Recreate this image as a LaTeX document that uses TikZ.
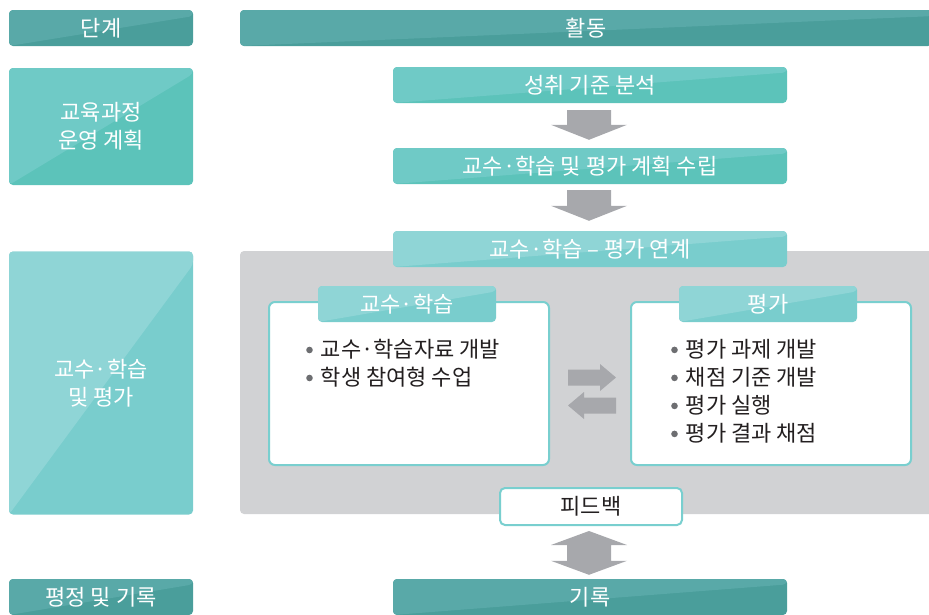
\documentclass[tikz,border=0pt]{standalone}
\usepackage{fontspec}
\setmainfont{Noto Sans CJK KR}
\usetikzlibrary{calc}
\definecolor{hdr}{HTML}{4A9E9B}
\definecolor{hdrL}{HTML}{59A9A8}
\definecolor{tealA}{HTML}{5CC3BA}
\definecolor{tealAL}{HTML}{6FCAC6}
\definecolor{tealB}{HTML}{79CDCD}
\definecolor{tealBL}{HTML}{8FD5D6}
\definecolor{bggray}{HTML}{D1D2D4}
\definecolor{arrgray}{HTML}{A7A8AC}
\definecolor{rim}{HTML}{79CFCF}
\definecolor{ink}{HTML}{231F20}
\definecolor{dotgray}{HTML}{6D6E71}
\newcommand\bul{\hspace{1pt}\tikz[baseline=-7.5pt]\fill[dotgray] (0pt,0pt) circle (3.3pt);\hspace{8pt}}
\tikzset{
  box/.style n args={3}{fill=#1, rounded corners=4pt, draw=none, text=white, inner sep=0pt,
    path picture={\fill[#2] (path picture bounding box.north west) -- (path picture bounding box.north east)
      -- ($(path picture bounding box.north east)!#3!(path picture bounding box.south east)$)
      -- (path picture bounding box.south west) -- cycle;}},
  panel/.style={draw=rim, line width=2pt, fill=white, rounded corners=6pt, inner sep=0pt},
  list/.style={anchor=north west, align=left, text=ink, inner sep=0pt},
  blockarrow/.style={fill=arrgray, draw=none}
}
\begin{document}
\begin{tikzpicture}[x=1pt,y=-1pt, font=\fontsize{22pt}{28pt}\selectfont]
\useasboundingbox (0,0) rectangle (929,614);

% headers
\node[box={hdr}{hdrL}{0.17}, minimum width=184pt, minimum height=36pt] (stage) at (101,28) {단계};
\node[box={hdr}{hdrL}{0.17}, minimum width=692pt, minimum height=36pt] (act) at (586,28) {활동};

% row 1
\node[box={tealA}{tealAL}{0.05}, minimum width=184pt, minimum height=117pt, align=center] (plan) at (101,126.5) {교육과정\\운영 계획};
\node[box={tealA}{tealAL}{0.15}, minimum width=394pt, minimum height=36pt] (s1) at (590,85) {성취 기준 분석};
\node[box={tealA}{tealAL}{0.15}, minimum width=394pt, minimum height=36pt] (s2) at (590,166) {교수·학습 및 평가 계획 수립};

% gray background region
\node[fill=bggray, rounded corners=4pt, inner sep=0pt, minimum width=697pt, minimum height=263pt] (bg) at (588.5,382.5) {};

\node[box={tealB}{tealBL}{0.15}, minimum width=394pt, minimum height=36pt] (s3) at (590,249) {교수·학습 – 평가 연계};

% row 2
\node[box={tealB}{tealBL}{0.05}, minimum width=184pt, minimum height=263pt, align=center] (doit) at (101,383) {교수·학습\\및 평가};

\node[panel, minimum width=280pt, minimum height=163pt] (L) at (409,383.5) {};
\node[panel, minimum width=280pt, minimum height=163pt] (R) at (771,383.5) {};
\node[box={tealB}{tealBL}{0.15}, minimum width=178pt, minimum height=36pt] (tabL) at (407,304) {교수·학습};
\node[box={tealB}{tealBL}{0.15}, minimum width=178pt, minimum height=36pt] (tabR) at (768,304) {평가};

\node[list] (listL) at (305,339) {\bul 교수·학습자료 개발\\\bul 학생 참여형 수업};
\node[list] (listR) at (670,339) {\bul 평가 과제 개발\\\bul 채점 기준 개발\\\bul 평가 실행\\\bul 평가 결과 채점};

% feedback and record
\node[panel, rounded corners=5pt, minimum width=182pt, minimum height=37pt, text=ink] (fb) at (591,506.5) {피드백};
\node[box={hdr}{hdrL}{0.15}, minimum width=394pt, minimum height=36pt] (rec) at (590,597) {기록};
\node[box={hdr}{hdrL}{0.15}, minimum width=184pt, minimum height=36pt] (grade) at (101,597) {평정 및 기록};

% down arrows
\coordinate (a1) at ($(s1.south)+(-1,7)$);
\coordinate (t1) at ($(s2.north)+(-1,-8)$);
\fill[blockarrow] ($(a1)+(-22,0)$) -- ($(a1)+(22,0)$) -- ($(t1)+(22,-15)$) -- ($(t1)+(38,-15)$) -- (t1)
  -- ($(t1)+(-38,-15)$) -- ($(t1)+(-22,-15)$) -- cycle;
\coordinate (a2) at ($(s2.south)+(-1,6)$);
\coordinate (t2) at ($(s3.north)+(-1,-10)$);
\fill[blockarrow] ($(a2)+(-22,0)$) -- ($(a2)+(22,0)$) -- ($(t2)+(22,-15)$) -- ($(t2)+(38,-15)$) -- (t2)
  -- ($(t2)+(-38,-15)$) -- ($(t2)+(-22,-15)$) -- cycle;

% exchange arrows
\coordinate (rs) at ($(L.east)+(18,-6)$);
\coordinate (re) at ($(R.west)+(-14,-6)$);
\fill[blockarrow] ($(rs)+(0,-8)$) -- ($(re)+(-16,-8)$) -- ($(re)+(-16,-13.5)$) -- (re)
  -- ($(re)+(-16,13.5)$) -- ($(re)+(-16,8)$) -- ($(rs)+(0,8)$) -- cycle;
\coordinate (ls) at ($(R.west)+(-14,22)$);
\coordinate (le) at ($(L.east)+(18,22)$);
\fill[blockarrow] ($(ls)+(0,-8)$) -- ($(le)+(16,-8)$) -- ($(le)+(16,-13.5)$) -- (le)
  -- ($(le)+(16,13.5)$) -- ($(le)+(16,8)$) -- ($(ls)+(0,8)$) -- cycle;

% double arrow
\coordinate (dt) at ($(fb.south)+(-2,5)$);
\coordinate (db) at ($(rec.north)+(-1,-4)$);
\fill[blockarrow] (dt) -- ($(dt)+(38,14)$) -- ($(dt)+(22,14)$) -- ($(db)+(22,-14)$) -- ($(db)+(38,-14)$) -- (db)
  -- ($(db)+(-38,-14)$) -- ($(db)+(-22,-14)$) -- ($(dt)+(-22,14)$) -- ($(dt)+(-38,14)$) -- cycle;
\end{tikzpicture}
\end{document}
